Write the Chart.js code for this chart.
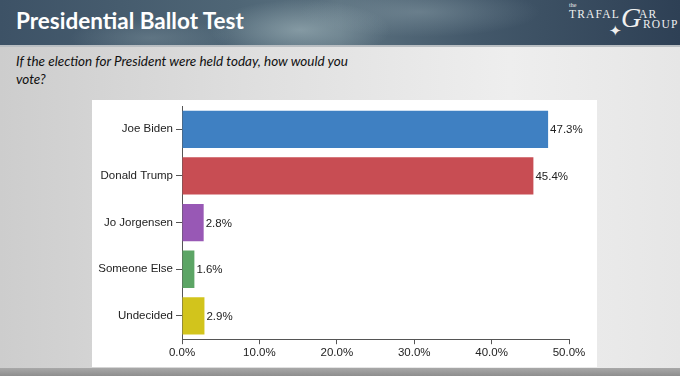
<!DOCTYPE html>
<html>
<head>
<meta charset="utf-8">
<script src="https://cdn.jsdelivr.net/npm/chart.js@4.4.0/dist/chart.umd.min.js"></script>
<style>
  html, body { margin: 0; padding: 0; }
  body {
    width: 680px; height: 376px; position: relative; overflow: hidden;
    background: linear-gradient(90deg, #cdcdcd 0%, #e0e0e0 40%, #eeeeee 75%, #e6e6e6 100%);
  }
  #header {
    position: absolute; left: 0; top: 0; width: 680px; height: 45px;
    background:
      radial-gradient(ellipse 90px 30px at 300px 30px, rgba(170,190,195,0.55), rgba(170,190,195,0) 100%),
      radial-gradient(ellipse 120px 25px at 420px 12px, rgba(140,160,170,0.45), rgba(140,160,170,0) 100%),
      radial-gradient(ellipse 80px 20px at 150px 38px, rgba(130,150,160,0.4), rgba(130,150,160,0) 100%),
      linear-gradient(90deg, #3d5266 0%, #4f6676 35%, #5c7280 50%, #43586a 70%, #2e4055 100%);
    border-bottom: 2px solid #b9bec2;
  }
  #title {
    position: absolute; left: 16px; top: 7px; color: #fff;
    font: bold 22.5px Lato, "Open Sans", sans-serif;
  }
  #logo {
    position: absolute; left: 565px; top: 2px; width: 115px; height: 40px; color: #f0f0f0;
    font-family: "Liberation Serif", "DejaVu Serif", serif; white-space: nowrap;
  }
  #logo span { position: absolute; }
  #question {
    position: absolute; left: 16px; top: 52px; width: 340px; color: #111;
    font: italic 13.5px/18px Lato, "Open Sans", sans-serif;
  }
  #panel {
    position: absolute; left: 92px; top: 100px; width: 505px; height: 267px; background: #fff;
  }
  #strip {
    position: absolute; left: 0; top: 368px; width: 680px; height: 8px;
    background: linear-gradient(180deg, #a8a8a8, #8e8e8e);
  }
</style>
</head>
<body>
<div id="header">
  <div id="title">Presidential Ballot Test</div>
  <div id="logo">
    <span style="left:4px;top:0;font-size:6px;">the</span>
    <span style="left:4px;top:6px;font-size:11.5px;letter-spacing:1.2px;">TRAFAL</span>
    <span style="left:56px;top:0;font-size:28px;font-style:italic;">G</span>
    <span style="left:74px;top:6px;font-size:11.5px;letter-spacing:1.2px;">AR</span>
    <span style="left:78px;top:16px;font-size:11.5px;letter-spacing:1.2px;">ROUP</span>
    <span style="left:44px;top:20px;font-size:15px;">&#10022;</span>
  </div>
</div>
<div id="question">If the election for President were held today, how would you vote?</div>
<div id="panel"><canvas id="chart" width="505" height="267"></canvas></div>
<div id="strip"></div>
<script>
const categories = ["Joe Biden", "Donald Trump", "Jo Jorgensen", "Someone Else", "Undecided"];
const values = [47.3, 45.4, 2.8, 1.6, 2.9];
const barColors = ["#3f80c2", "#c84d53", "#9858b5", "#5ca565", "#d2c41c"];
const xTicks = [0, 10, 20, 30, 40, 50];

const valueLabels = {
    id: "valueLabels",
    afterDatasetsDraw(chart) {
        const ctx = chart.ctx;
        const meta = chart.getDatasetMeta(0);
        ctx.save();
        ctx.font = "11.5px 'Liberation Sans', Arial, sans-serif";
        ctx.fillStyle = "#222";
        ctx.textAlign = "left";
        ctx.textBaseline = "middle";
        meta.data.forEach((bar, i) => {
            ctx.fillText(values[i].toFixed(1) + "%", bar.x + 2, bar.y + 1);
        });
        ctx.restore();
    }
};

const canvas = document.getElementById("chart");
new Chart(canvas, {
    type: "bar",
    data: {
        labels: categories,
        datasets: [{
            data: values,
            backgroundColor: barColors,
            borderWidth: 0,
            barPercentage: 0.8,
            categoryPercentage: 1.0
        }]
    },
    options: {
        indexAxis: "y",
        responsive: false,
        animation: false,
        layout: { padding: { top: 6, right: 28, left: 0, bottom: 5 } },
        plugins: { legend: { display: false }, tooltip: { enabled: false } },
        scales: {
            x: {
                min: 0,
                max: 50,
                afterBuildTicks: scale => { scale.ticks = xTicks.map(v => ({ value: v })); },
                grid: { drawOnChartArea: false, tickLength: 5, color: "#555" },
                border: { color: "#555", width: 1 },
                ticks: {
                    color: "#222",
                    padding: 2,
                    font: { family: "'Liberation Sans', Arial, sans-serif", size: 11.5 },
                    callback: v => v.toFixed(1) + "%"
                }
            },
            y: {
                afterFit: scale => {
                    scale.width = 90;
                    scale.paddingTop = 0;
                    scale.paddingBottom = 0;
                },
                grid: { drawOnChartArea: false, tickLength: 6, color: "#555", offset: false },
                border: { color: "#555", width: 1 },
                ticks: {
                    color: "#222",
                    padding: 3,
                    font: { family: "'Liberation Sans', Arial, sans-serif", size: 11.5 }
                }
            }
        }
    },
    plugins: [valueLabels]
});
</script>
</body>
</html>
